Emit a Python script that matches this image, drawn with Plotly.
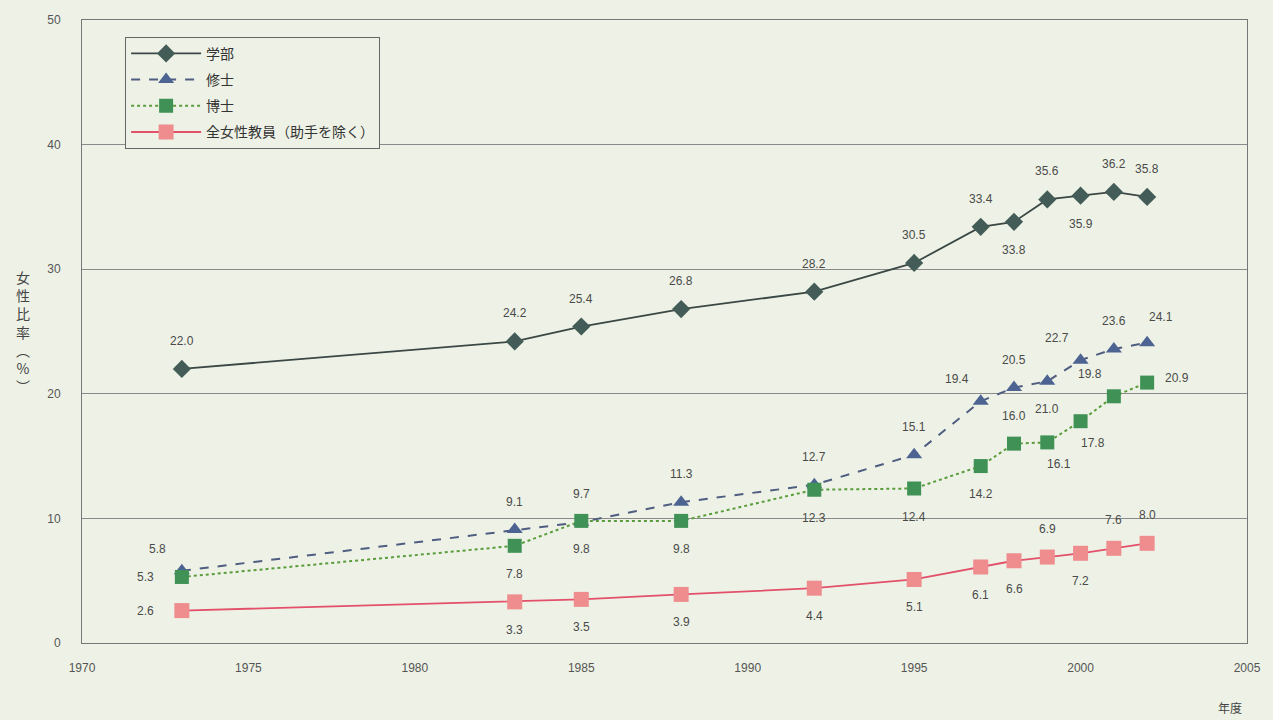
import plotly.graph_objects as go

years = [1973, 1983, 1985, 1988, 1992, 1995, 1997, 1998, 1999, 2000, 2001, 2002]
gakubu = [22.0, 24.2, 25.4, 26.8, 28.2, 30.5, 33.4, 33.8, 35.6, 35.9, 36.2, 35.8]
shushi = [5.8, 9.1, 9.7, 11.3, 12.7, 15.1, 19.4, 20.5, 21.0, 22.7, 23.6, 24.1]
hakushi = [5.3, 7.8, 9.8, 9.8, 12.3, 12.4, 14.2, 16.0, 16.1, 17.8, 19.8, 20.9]
kyoin = [2.6, 3.3, 3.5, 3.9, 4.4, 5.1, 6.1, 6.6, 6.9, 7.2, 7.6, 8.0]

names = ["学部", "修士", "博士", "全女性教員（助手を除く）"]
x_ticks = [1970, 1975, 1980, 1985, 1990, 1995, 2000, 2005]
y_ticks = [0, 10, 20, 30, 40, 50]

# label placement per point
pos_gakubu = ["t", "t", "t", "t", "t", "t", "t", "b", "t", "b", "t", "t"]
pos_shushi = ["tl", "t", "t", "t", "t", "t", "tl", "t", "b", "tl", "t", "tr"]
pos_hakushi = ["l", "b", "b", "b", "b", "b", "b", "t", "br", "br", "tl", "r"]
pos_kyoin = ["l", "b", "b", "b", "b", "b", "b", "b", "t", "b", "t", "t"]

bg = "#eef2e6"
label_font = dict(family="Liberation Sans, Arial, sans-serif", size=12, color="#4a4a4a")
jp_font = "Noto Sans CJK JP, sans-serif"

fig = go.Figure()
fig.add_trace(go.Scatter(
    x=years, y=gakubu, name=names[0], mode="lines+markers",
    line=dict(color="#3a4744", width=1.8),
    marker=dict(symbol="diamond", size=14, color="#435c57"),
    legendgroup="a"))
fig.add_trace(go.Scatter(
    x=years, y=shushi, name=names[1], mode="lines+markers",
    line=dict(color="#4f5d80", width=2, dash="dash"),
    marker=dict(symbol="triangle-up", size=14, color="#4d6492"),
    legendgroup="b"))
fig.add_trace(go.Scatter(
    x=years, y=hakushi, name=names[2], mode="lines+markers",
    line=dict(color="#5a9c3c", width=2, dash="dot"),
    marker=dict(symbol="square", size=14, color="#3f9155"),
    legendgroup="c"))
fig.add_trace(go.Scatter(
    x=years, y=kyoin, name=names[3], mode="lines+markers",
    line=dict(color="#e2506a", width=1.8),
    marker=dict(symbol="square", size=15, color="#ee8c8e"),
    legendgroup="d"))

shift = {
    "t": (0, 28), "b": (0, -28), "l": (-36, 0), "r": (30, 5),
    "tl": (-24, 22), "tr": (14, 26), "br": (12, -22),
}
for vals, poss in [(gakubu, pos_gakubu), (shushi, pos_shushi),
                   (hakushi, pos_hakushi), (kyoin, pos_kyoin)]:
    for xv, yv, p in zip(years, vals, poss):
        dx, dy = shift[p]
        fig.add_annotation(x=xv, y=yv, text=f"{yv:.1f}", showarrow=False,
                           xshift=dx, yshift=dy, font=label_font)

fig.add_annotation(xref="paper", yref="paper", x=-0.051, y=0.50,
                   text="女<br>性<br>比<br>率<br>︵<br>%<br>︶", showarrow=False,
                   font=dict(family=jp_font, size=14, color="#444"),
                   xanchor="center", yanchor="middle")
fig.add_annotation(xref="paper", yref="paper", x=0.985, y=-0.104,
                   text="年度", showarrow=False,
                   font=dict(family=jp_font, size=12, color="#444"),
                   xanchor="center", yanchor="middle")

fig.update_layout(
    width=1273, height=720,
    paper_bgcolor=bg, plot_bgcolor=bg,
    margin=dict(l=82, r=23, t=20, b=77),
    showlegend=True,
    legend=dict(x=0.037, y=0.973, xanchor="left", yanchor="top",
                bgcolor=bg, bordercolor="#666", borderwidth=1,
                font=dict(family=jp_font, size=14, color="#333"),
                itemwidth=70, tracegroupgap=5),
    xaxis=dict(range=[1970, 2005], tickvals=x_ticks, showgrid=False,
               showline=True, linecolor="#777", linewidth=1, mirror=True,
               ticks="", zeroline=False, ticklabelstandoff=14,
               tickfont=dict(family="Liberation Sans, Arial", size=12, color="#555")),
    yaxis=dict(range=[0, 50], tickvals=y_ticks, showgrid=True,
               gridcolor="#8a8a8a", gridwidth=1,
               showline=True, linecolor="#777", linewidth=1, mirror=True,
               ticks="", zeroline=False, ticklabelstandoff=18,
               tickfont=dict(family="Liberation Sans, Arial", size=12, color="#555")),
)

fig.write_html("out.html", config={"displayModeBar": False},
               post_script="document.body.style.margin='0';document.body.style.overflow='hidden';")
